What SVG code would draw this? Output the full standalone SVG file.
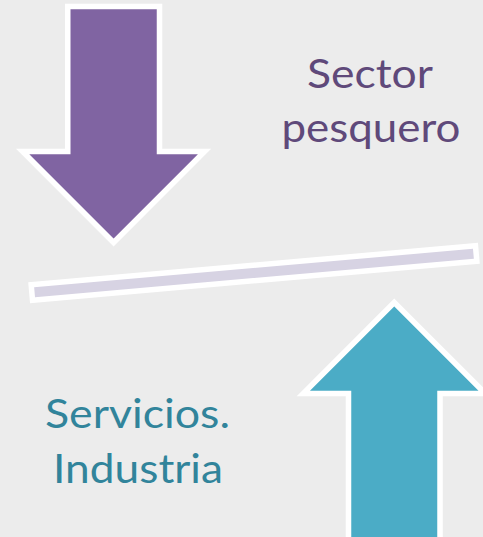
<svg xmlns="http://www.w3.org/2000/svg" width="483" height="537" viewBox="0 0 483 537">
  <style>
    .shape { stroke: #ffffff; stroke-width: 5.5; stroke-linejoin: miter; }
    .lbl { font-family: Lato, "Open Sans", "Liberation Sans", sans-serif; font-size: 41px; text-anchor: middle; }
  </style>
  <rect x="0" y="0" width="483" height="537" fill="#ececec"/>
  <g id="arrow-down">
    <polygon class="shape" fill="#8064a2" points="67.75,6.5 159.5,6.5 159.5,151.5 204.6,151.5 113.6,242.5 22.6,151.5 67.75,151.5"/>
  </g>
  <g id="balance-bar">
    <rect class="shape" fill="#d7d3e3" x="-223" y="-7.75" width="446" height="15.5" transform="translate(254 273) rotate(-5)"/>
  </g>
  <g id="arrow-up">
    <polygon class="shape" fill="#4bacc6" points="394.25,302.5 485.25,393.5 440,393.5 440,540 348.5,540 348.5,393.5 303.25,393.5"/>
  </g>
  <g id="label-sector">
    <text class="lbl" fill="#5f497a" x="370" y="88" textLength="126" lengthAdjust="spacingAndGlyphs">Sector</text>
    <text class="lbl" fill="#5f497a" x="371" y="142" textLength="179" lengthAdjust="spacingAndGlyphs">pesquero</text>
  </g>
  <g id="label-servicios">
    <text class="lbl" fill="#31849b" x="137.5" y="428" textLength="185" lengthAdjust="spacingAndGlyphs">Servicios.</text>
    <text class="lbl" fill="#31849b" x="138" y="483" textLength="170" lengthAdjust="spacingAndGlyphs">Industria</text>
  </g>
  <g id="connectors"></g>
</svg>
